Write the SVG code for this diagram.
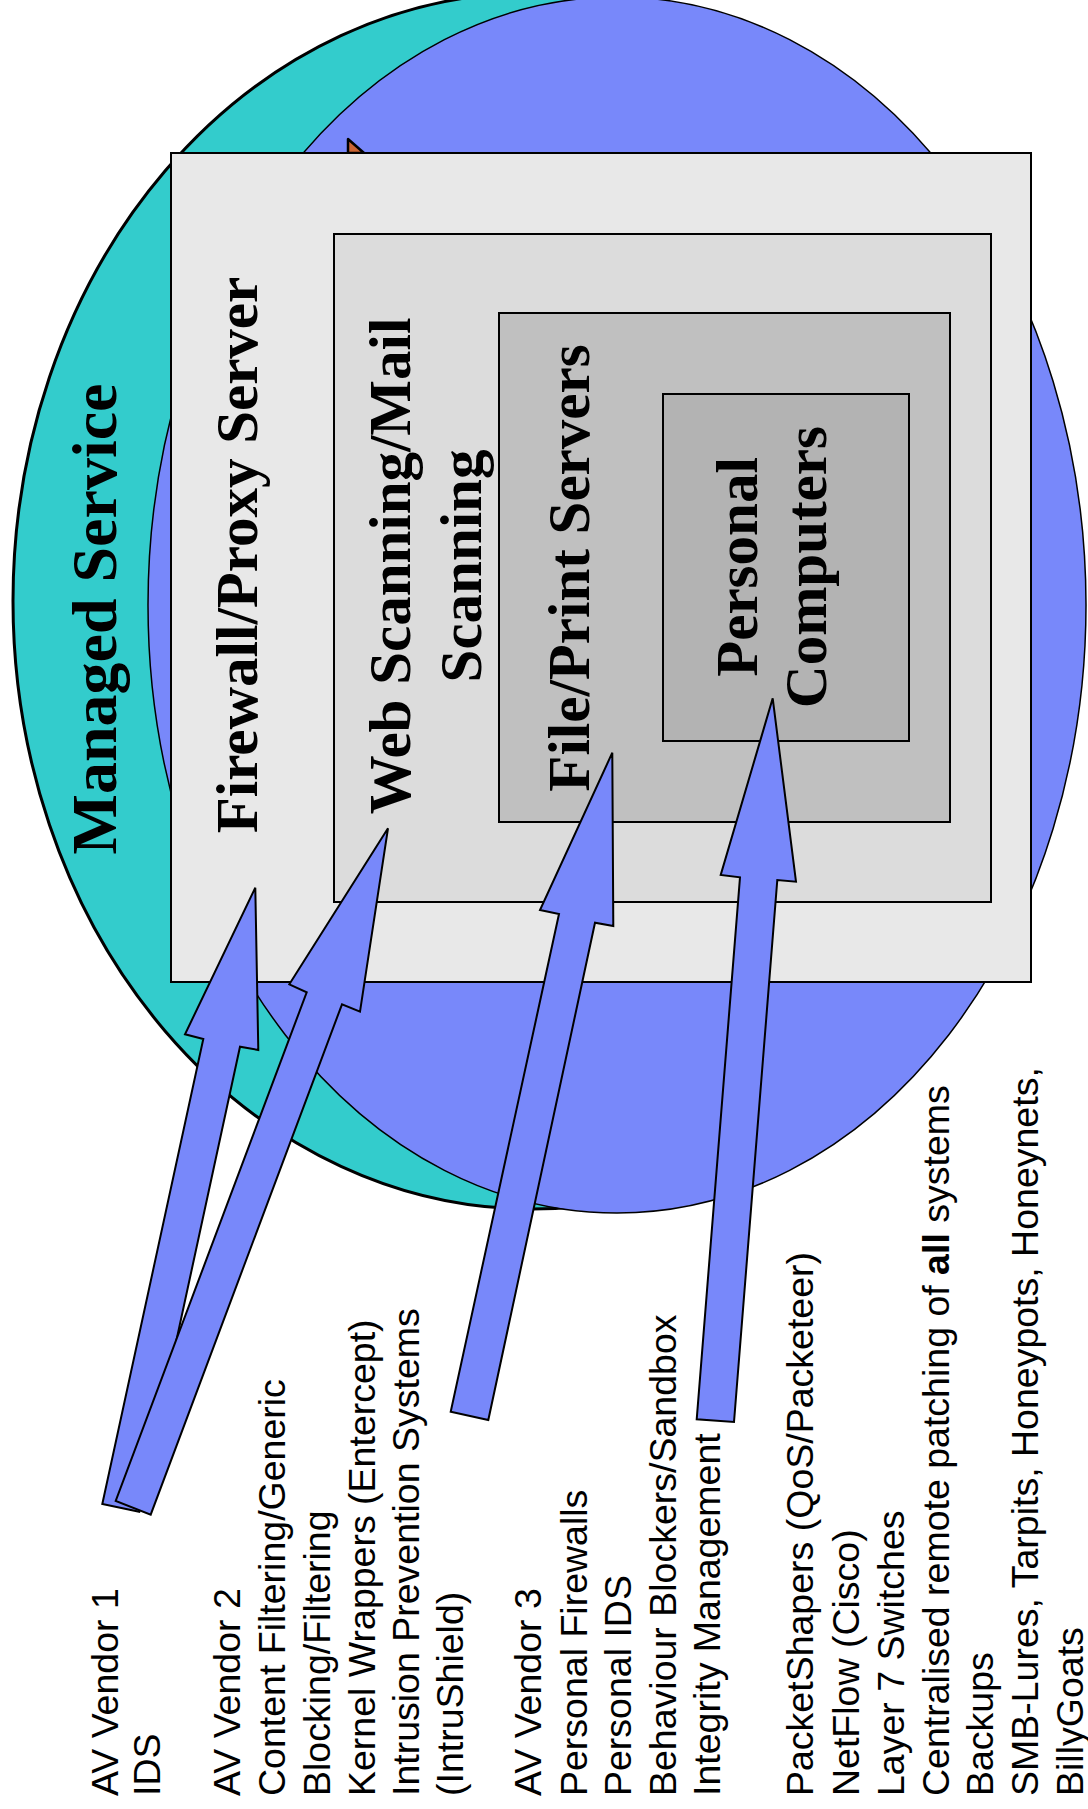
<svg xmlns="http://www.w3.org/2000/svg" width="1088" height="1809" viewBox="0 0 1088 1809">
<style>
.box{stroke:#000;stroke-width:2}
.ttl{font-family:"Liberation Serif","Times New Roman",serif;font-weight:bold;font-size:59px;fill:#000;text-anchor:middle}
.arr{fill:#7888FA;stroke:#000;stroke-width:2;stroke-linejoin:miter}
.lst{font-family:"Liberation Sans",Arial,sans-serif;font-size:37.5px;fill:#000}
</style>
<rect width="1088" height="1809" fill="#fff"/>
<g id="managed-service">
<ellipse cx="532" cy="601" rx="519" ry="608" fill="#33CCCC" stroke="#000" stroke-width="3"/>
</g>
<g id="blue-zone">
<ellipse cx="617" cy="605" rx="469" ry="608" fill="#7888FA" stroke="#000" stroke-width="1.5"/>
</g>
<g id="hidden-arrow">
<polygon points="348,139 348,153 364,153" fill="#CC6633" stroke="#000" stroke-width="2.5" stroke-linejoin="round"/>
</g>
<g id="firewall">
<rect class="box" x="171" y="153" width="860" height="829" fill="#E8E8E8"/>
</g>
<g id="web-scanning">
<rect class="box" x="334" y="234" width="657" height="668" fill="#DCDCDC"/>
</g>
<g id="file-print">
<rect class="box" x="499" y="313" width="451" height="509" fill="#C0C0C0"/>
</g>
<g id="personal-computers">
<rect class="box" x="663" y="394" width="246" height="347" fill="#B3B3B3"/>
</g>
<g id="labels">
<text class="ttl" style="font-size:64px" transform="translate(116,619) rotate(-90)">Managed Service</text>
<text class="ttl" transform="translate(257,555) rotate(-90)">Firewall/Proxy Server</text>
<text class="ttl" transform="translate(410,566) rotate(-90)">Web Scanning/Mail</text>
<text class="ttl" transform="translate(481,566) rotate(-90)">Scanning</text>
<text class="ttl" transform="translate(589,568) rotate(-90)">File/Print Servers</text>
<text class="ttl" transform="translate(757,567) rotate(-90)">Personal</text>
<text class="ttl" transform="translate(826,567) rotate(-90)">Computers</text>
</g>
<g id="connectors">
<polygon class="arr" points="255.3,887.7 258.3,1050 240,1046.7 139.3,1511.7 102.3,1504 203.3,1039 185,1034.3"/>
<polygon class="arr" points="388,828.3 360,1011.7 342,1004.3 150.7,1514.7 115.7,1501 306.7,992.3 289.3,984.3"/>
<polygon class="arr" points="612.3,752.7 613.3,926 595,922.7 488.3,1420 450.7,1411.7 559,914 540,910"/>
<polygon class="arr" points="772.7,698.3 796,881.7 777.3,880 734,1422 696.7,1419.3 740,877.3 720.7,875"/>
</g>
<g id="measures">
<text class="lst" transform="translate(118,1796) rotate(-90)">AV Vendor 1</text>
<text class="lst" transform="translate(160,1796) rotate(-90)">IDS</text>
<text class="lst" transform="translate(240,1796) rotate(-90)">AV Vendor 2</text>
<text class="lst" transform="translate(285,1796) rotate(-90)">Content Filtering/Generic</text>
<text class="lst" transform="translate(330,1796) rotate(-90)">Blocking/Filtering</text>
<text class="lst" transform="translate(375,1796) rotate(-90)">Kernel Wrappers (Entercept)</text>
<text class="lst" transform="translate(419,1796) rotate(-90)">Intrusion Prevention Systems</text>
<text class="lst" transform="translate(463,1796) rotate(-90)">(IntruShield)</text>
<text class="lst" transform="translate(541,1796) rotate(-90)">AV Vendor 3</text>
<text class="lst" transform="translate(587,1796) rotate(-90)">Personal Firewalls</text>
<text class="lst" transform="translate(631,1796) rotate(-90)">Personal IDS</text>
<text class="lst" transform="translate(676,1796) rotate(-90)">Behaviour Blockers/Sandbox</text>
<text class="lst" transform="translate(720,1796) rotate(-90)">Integrity Management</text>
<text class="lst" transform="translate(813,1796) rotate(-90)">PacketShapers (QoS/Packeteer)</text>
<text class="lst" transform="translate(859,1796) rotate(-90)">NetFlow (Cisco)</text>
<text class="lst" transform="translate(904,1796) rotate(-90)">Layer 7 Switches</text>
<text class="lst" transform="translate(949,1796) rotate(-90)">Centralised remote patching of <tspan font-weight="bold">all</tspan> systems</text>
<text class="lst" transform="translate(993,1796) rotate(-90)">Backups</text>
<text class="lst" transform="translate(1038,1796) rotate(-90)">SMB-Lures,  Tarpits, Honeypots, Honeynets,</text>
<text class="lst" transform="translate(1083,1796) rotate(-90)">BillyGoats</text>
</g>
</svg>
